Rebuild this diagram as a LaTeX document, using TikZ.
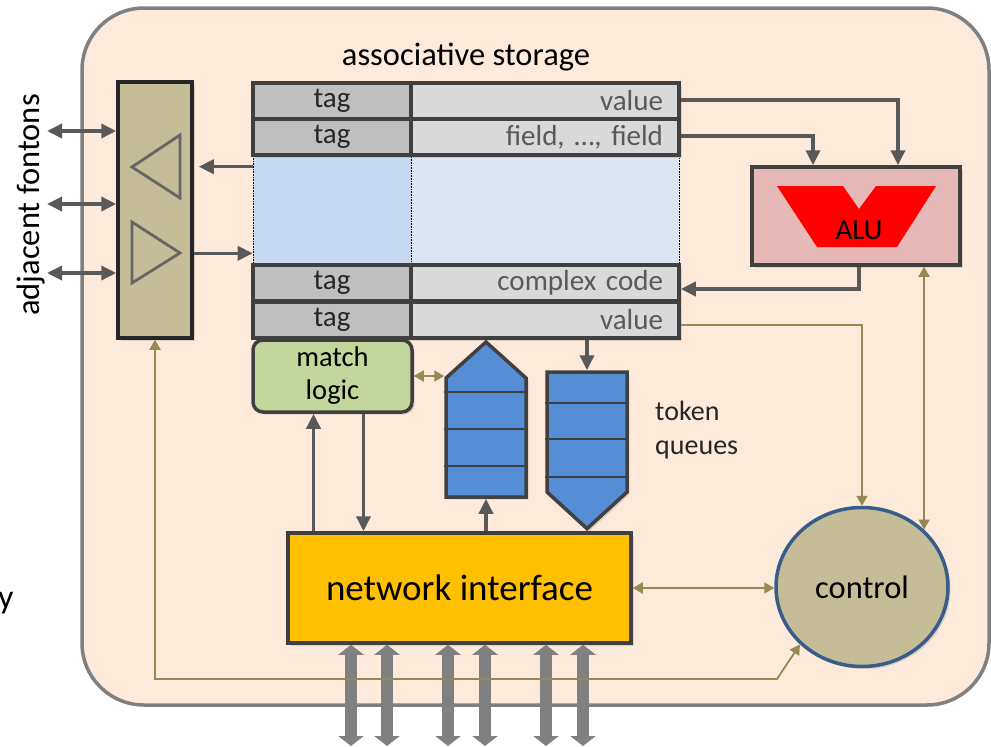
\documentclass[tikz,border=0pt]{standalone}
\usepackage{fontspec}
\setmainfont{Carlito}
\usetikzlibrary{arrows.meta,calc,shapes.symbols,shapes.geometric,shadows}

\begin{document}
\begin{tikzpicture}[x=1pt,y=1pt,yscale=-1,xscale=1,
    box/.style={draw={rgb,255:red,64;green,64;blue,64},line width=3.5pt,inner sep=0pt,font=\fontsize{29}{34}\selectfont},
    shade/.style={drop shadow={opacity=0.25,shadow xshift=2.5pt,shadow yshift=-2.5pt}},
    tagcell/.style={box,shade,fill={rgb,255:red,191;green,191;blue,191},minimum width=158pt,minimum height=36pt,text={rgb,255:red,38;green,38;blue,38}},
    valcell/.style={box,shade,fill={rgb,255:red,217;green,217;blue,217},minimum height=36pt,text width=236pt,inner xsep=16pt,align=right,text={rgb,255:red,89;green,89;blue,89}},
    emptycell/.style={draw=black,densely dotted,line width=0.6pt,minimum height=110pt,inner sep=0pt},
    queue/.style={box,shade,signal,signal from=nowhere,fill={rgb,255:red,85;green,142;blue,213},minimum width=80pt},
    divider/.style={draw={rgb,255:red,64;green,64;blue,64},line width=2pt},
    tri/.style={draw={rgb,255:red,102;green,102;blue,102},line width=2.8pt},
    darr/.style={draw={rgb,255:red,89;green,89;blue,89},line width=3.5pt,-{Triangle[length=15pt,width=14pt]}},
    ddarr/.style={darr,{Triangle[length=15pt,width=14pt]}-{Triangle[length=15pt,width=14pt]}},
    oarr/.style={draw={rgb,255:red,148;green,138;blue,84},line width=1.8pt,-{Triangle[length=10pt,width=11pt]}},
    doarr/.style={oarr,{Triangle[length=10pt,width=11pt]}-{Triangle[length=10pt,width=11pt]}},
    bus/.style={draw={rgb,255:red,128;green,128;blue,128},line width=12pt,{Triangle[length=10pt,width=25pt]}-{Triangle[length=10pt,width=25pt]}},
    label/.style={inner sep=0pt,text={rgb,255:red,38;green,38;blue,38}}
    ]
    \useasboundingbox (0,0) rectangle (991,747);

    %Shape: Rounded Rect (fonton)
    \draw [line width=3.5pt,draw={rgb,255:red,128;green,128;blue,128},fill={rgb,255:red,253;green,234;blue,218},rounded corners=62pt] (82,8) rectangle (989,705);

    % Text Node
    \node [label,text=black,font=\fontsize{32.5}{38}\selectfont] (ast) at (466,57) {associative storage};
    \node [label,text=black,font=\fontsize{32.5}{38}\selectfont,rotate=90] (adj) at (31,205) {adjacent fontons};
    \node [label,text=black,font=\fontsize{34}{38}\selectfont,anchor=west] (ycut) at (-2,603) {y};

    %Shape: Rect (links to adjacent fontons)
    \node [box,shade,draw={rgb,255:red,38;green,38;blue,38},fill={rgb,255:red,196;green,189;blue,151},minimum width=74pt,minimum height=256pt] (fbar) at (155,210) {};
    \draw [tri] (132,167) -- (180,135) -- (180,198) -- cycle;
    \draw [tri] (132,222) -- (180,253) -- (132,283) -- cycle;
    \foreach \i/\fy in {1/131,2/204,3/273} {
        \coordinate (fa\i) at (47,\fy);
        \draw [ddarr] (fa\i) -- (fa\i -| fbar.west);
    }

    %Shape: associative storage
    \node [emptycell,fill={rgb,255:red,198;green,217;blue,241},minimum width=158pt] (bt) at (332,210) {};
    \node [emptycell,fill={rgb,255:red,220;green,230;blue,242},minimum width=268pt] (bv) at (545,210) {};
    \node [tagcell] (t1) at (332,101) {tag};
    \node [valcell] (v1) at (545,101) {value};
    \node [tagcell] (t2) at (332,137) {tag};
    \node [valcell] (v2) at (545,137) {field, \dots, field};
    \node [tagcell] (t3) at (332,283) {tag};
    \node [valcell] (v3) at (545,283) {complex code};
    \node [tagcell] (t4) at (332,320) {tag};
    \node [valcell] (v4) at (545,320) {value};

    \coordinate (sl1) at ($(bt.north west)+(0,12)$);
    \coordinate (sl2) at ($(bt.south west)+(0,-12)$);
    \draw [darr,shorten >=5pt] (sl1) -- (sl1 -| fbar.east);
    \draw [darr] (sl2 -| fbar.east) -- (sl2);

    %Shape: ALU
    \node [box,shade,fill={rgb,255:red,230;green,185;blue,184},minimum width=208pt,minimum height=98pt] (alu) at (856,216) {};
    \fill [red] (777,186) -- (843,186) -- (859,209) -- (876,186) -- (936,186) -- (897,247) -- (817,247) -- cycle;
    \node [label,text=black,font=\fontsize{29}{34}\selectfont] (alutxt) at (859,230) {ALU};

    \coordinate (aluin1) at ($(alu.north)+(-43,0)$);
    \coordinate (aluin2) at ($(alu.north)+(42,0)$);
    \draw [darr] ($(v1.east)+(0,-1)$) -| (aluin2);
    \draw [darr] ($(v2.east)+(0,-1)$) -| (aluin1);
    \draw [darr] ($(alu.south)+(3,0)$) |- ($(v3.east)+(0,6)$);

    %Shape: match logic
    \node [box,shade,fill={rgb,255:red,195;green,214;blue,155},rounded corners=10pt,minimum width=159pt,minimum height=72pt,align=center,text=black,font=\fontsize{28.5}{33}\selectfont] (ml) at (332.5,376) {match\\logic};

    %Shape: token queues
    \node [queue,signal to=north,signal pointer angle=96,minimum height=119pt] (q1) at (486,437.5) {};
    \node [queue,signal to=south,signal pointer angle=95,minimum height=120pt] (q2) at (587,432) {};
    \foreach \dy in {392,429,466} \draw [divider] (q1.west |- 0,\dy) -- (q1.east |- 0,\dy);
    \foreach \dy in {403,439,477} \draw [divider] (q2.west |- 0,\dy) -- (q2.east |- 0,\dy);
    \node [label,align=left,font=\fontsize{28}{34}\selectfont,anchor=west] (tq) at (655,430) {token\\queues};

    %Shape: network interface
    \node [box,shade,fill={rgb,255:red,255;green,192;blue,0},minimum width=343pt,minimum height=110pt,text=black,font=\fontsize{37}{42}\selectfont] (net) at (459.5,588) {network interface};

    %Shape: control
    \node [ellipse,shade,draw={rgb,255:red,56;green,93;blue,138},line width=3.5pt,fill={rgb,255:red,196;green,189;blue,151},minimum width=172pt,minimum height=159pt,inner sep=0pt,font=\fontsize{32.5}{38}\selectfont] (ctrl) at (862,587) {control};

    % connectors
    \coordinate (mlin) at ($(ml.south)+(-19,0)$);
    \coordinate (mlout) at ($(ml.south)+(31,0)$);
    \draw [darr] (mlin |- net.north) -- (mlin);
    \draw [darr] (mlout) -- (mlout |- net.north);
    \draw [darr] (q1.south |- net.north) -- (q1.south);
    \draw [darr] (q2.north |- v4.south) -- (q2.north);
    \draw [doarr] (ml.east) -- (ml.east -| q1.west);

    \foreach \bx in {351,387,448,485,546,583} {
        \coordinate (b\bx) at (\bx,746);
        \draw [bus] (b\bx |- net.south) -- (b\bx);
    }

    \draw [oarr] ($(v4.east)+(0,5)$) -| (ctrl.north);
    \draw [doarr] (ctrl.north east) -- (ctrl.north east |- alu.south);
    \draw [doarr] (net.east) -- (net.east -| ctrl.west);
    \coordinate (lbend) at (777,679);
    \draw [doarr] (fbar.south) |- (lbend) -- (ctrl.south west);

\end{tikzpicture}
\end{document}
